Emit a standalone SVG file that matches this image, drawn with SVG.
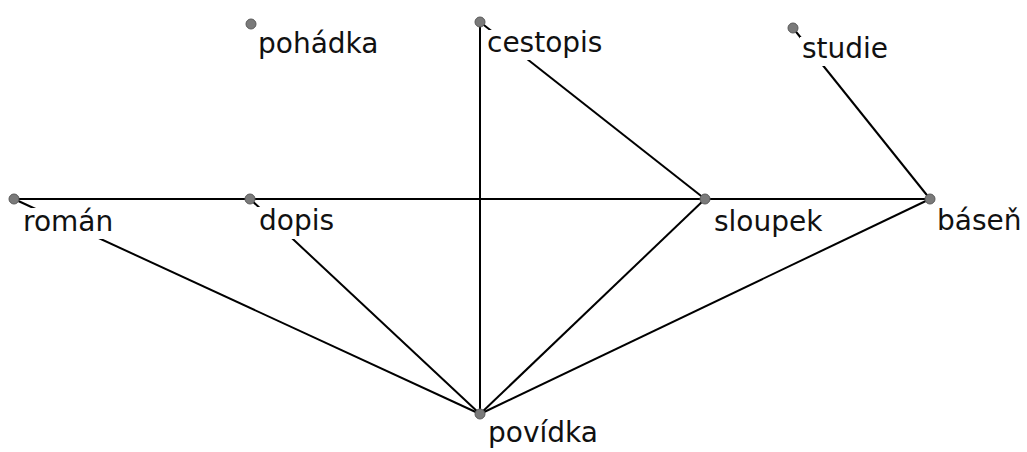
<svg xmlns="http://www.w3.org/2000/svg" width="1027" height="452" viewBox="0 0 1027 452">
<style>
.e{stroke:#000;stroke-width:2;fill:none}
.d{fill:#7a7a7a;stroke:#5a5a5a;stroke-width:1}
.bg{fill:#fff}
.t{font-family:"DejaVu Sans",sans-serif;font-size:28px;fill:#111}
</style>
<rect width="1027" height="452" fill="#fff"/>
<g id="connectors">
<line class="e" x1="14" y1="199" x2="250" y2="199"/>
<line class="e" x1="250" y1="199" x2="705" y2="199"/>
<line class="e" x1="705" y1="199" x2="930" y2="199"/>
<line class="e" x1="480" y1="22" x2="480" y2="414"/>
<line class="e" x1="480" y1="22" x2="705" y2="199"/>
<line class="e" x1="793" y1="28" x2="930" y2="199"/>
<line class="e" x1="14" y1="199" x2="480" y2="414"/>
<line class="e" x1="250" y1="199" x2="480" y2="414"/>
<line class="e" x1="705" y1="199" x2="480" y2="414"/>
<line class="e" x1="930" y1="199" x2="480" y2="414"/>
</g>
<g id="pohadka">
<rect class="bg" x="256" y="31" width="130" height="30"/>
<circle class="d" cx="251" cy="24" r="5"/>
<text class="t" x="258" y="53">pohádka</text>
</g>
<g id="cestopis">
<rect class="bg" x="485" y="30" width="122" height="30"/>
<circle class="d" cx="480" cy="22" r="5"/>
<text class="t" x="487" y="52">cestopis</text>
</g>
<g id="studie">
<rect class="bg" x="800" y="37" width="92" height="29"/>
<circle class="d" cx="793" cy="28" r="5"/>
<text class="t" x="802" y="58">studie</text>
</g>
<g id="roman">
<rect class="bg" x="21" y="208" width="97" height="31"/>
<circle class="d" cx="14" cy="199" r="5"/>
<text class="t" x="23" y="231">román</text>
</g>
<g id="dopis">
<rect class="bg" x="256" y="207" width="81" height="32"/>
<circle class="d" cx="250" cy="199" r="5"/>
<text class="t" x="259" y="230">dopis</text>
</g>
<g id="sloupek">
<rect class="bg" x="712" y="207" width="115" height="32"/>
<circle class="d" cx="705" cy="199" r="5"/>
<text class="t" x="714" y="231">sloupek</text>
</g>
<g id="basen">
<rect class="bg" x="935" y="207" width="90" height="32"/>
<circle class="d" cx="930" cy="199" r="5"/>
<text class="t" x="937" y="230">báseň</text>
</g>
<g id="povidka">
<rect class="bg" x="486" y="420" width="116" height="30"/>
<circle class="d" cx="480" cy="414" r="5"/>
<text class="t" x="488" y="442">povídka</text>
</g>
</svg>
